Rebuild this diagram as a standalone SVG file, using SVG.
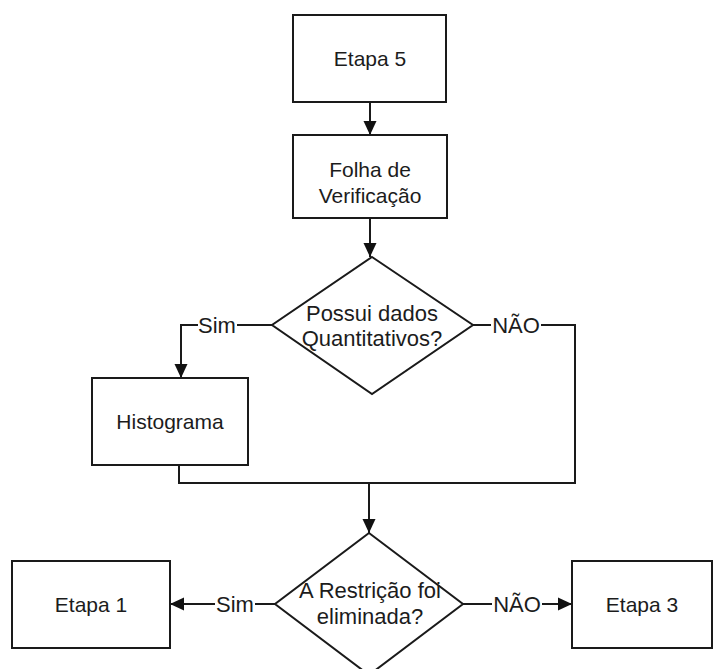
<svg xmlns="http://www.w3.org/2000/svg" width="719" height="669" viewBox="0 0 719 669">
  <defs>
    <marker id="arrow" viewBox="0 0 14 14" refX="14" refY="7" markerWidth="14" markerHeight="14" markerUnits="userSpaceOnUse" orient="auto">
      <path d="M0,0.5 L14,7 L0,13.5 Z" fill="#111"/>
    </marker>
    <style>
      .shape { fill: #fff; stroke: #1a1a1a; stroke-width: 2; }
      .conn { fill: none; stroke: #1a1a1a; stroke-width: 2; }
      .txt { font-family: "Liberation Sans", Arial, sans-serif; font-size: 21px; fill: #1c1c1c; text-anchor: middle; }
      .dtxt { font-size: 22px; }
      .lbl { font-size: 22px; }
      .lblbg { fill: #fff; stroke: none; }
    </style>
  </defs>

  <rect width="719" height="669" fill="#fff"/>

  <!-- connectors -->
  <g id="connectors">
    <path class="conn" d="M370,102 V135" marker-end="url(#arrow)"/>
    <path class="conn" d="M370,218 V257" marker-end="url(#arrow)"/>
    <!-- Sim branch to Histograma -->
    <path class="conn" d="M272,325 H181 V378" marker-end="url(#arrow)"/>
    <!-- NÃO branch, merging below Histograma -->
    <path class="conn" d="M473,325 H575 V483 H179 V465"/>
    <path class="conn" d="M369,483 V533" marker-end="url(#arrow)"/>
    <!-- second decision outputs -->
    <path class="conn" d="M275,604 H170" marker-end="url(#arrow)"/>
    <path class="conn" d="M463,604 H572" marker-end="url(#arrow)"/>

    <g id="labels">
      <rect class="lblbg" x="198" y="314" width="39" height="22"/>
      <text class="txt lbl" x="217" y="333">Sim</text>
      <rect class="lblbg" x="491" y="314" width="50" height="22"/>
      <text class="txt lbl" x="516" y="333">NÃO</text>
      <rect class="lblbg" x="215" y="593" width="40" height="22"/>
      <text class="txt lbl" x="235" y="612">Sim</text>
      <rect class="lblbg" x="492" y="593" width="50" height="22"/>
      <text class="txt lbl" x="517" y="612">NÃO</text>
    </g>
  </g>

  <g id="etapa5">
    <rect class="shape" x="293" y="15" width="153" height="87"/>
    <text class="txt" x="370" y="66">Etapa 5</text>
  </g>

  <g id="folha">
    <rect class="shape" x="293" y="135" width="154" height="83"/>
    <text class="txt" x="370" y="177">Folha de</text>
    <text class="txt" x="370" y="203">Verificação</text>
  </g>

  <g id="decisao1">
    <polygon class="shape" points="372,257 473,325 372,394 272,325"/>
    <text class="txt dtxt" x="372" y="321">Possui dados</text>
    <text class="txt dtxt" x="372" y="346">Quantitativos?</text>
  </g>

  <g id="histograma">
    <rect class="shape" x="92" y="378" width="156" height="87"/>
    <text class="txt" x="170" y="429">Histograma</text>
  </g>

  <g id="decisao2">
    <polygon class="shape" points="369,533 463,604 369,675 275,604"/>
    <text class="txt dtxt" x="370" y="598">A Restrição foi</text>
    <text class="txt dtxt" x="370" y="624">eliminada?</text>
  </g>

  <g id="etapa1">
    <rect class="shape" x="12" y="561" width="158" height="87"/>
    <text class="txt" x="91" y="612">Etapa 1</text>
  </g>

  <g id="etapa3">
    <rect class="shape" x="572" y="561" width="140" height="87"/>
    <text class="txt" x="642" y="612">Etapa 3</text>
  </g>
</svg>
